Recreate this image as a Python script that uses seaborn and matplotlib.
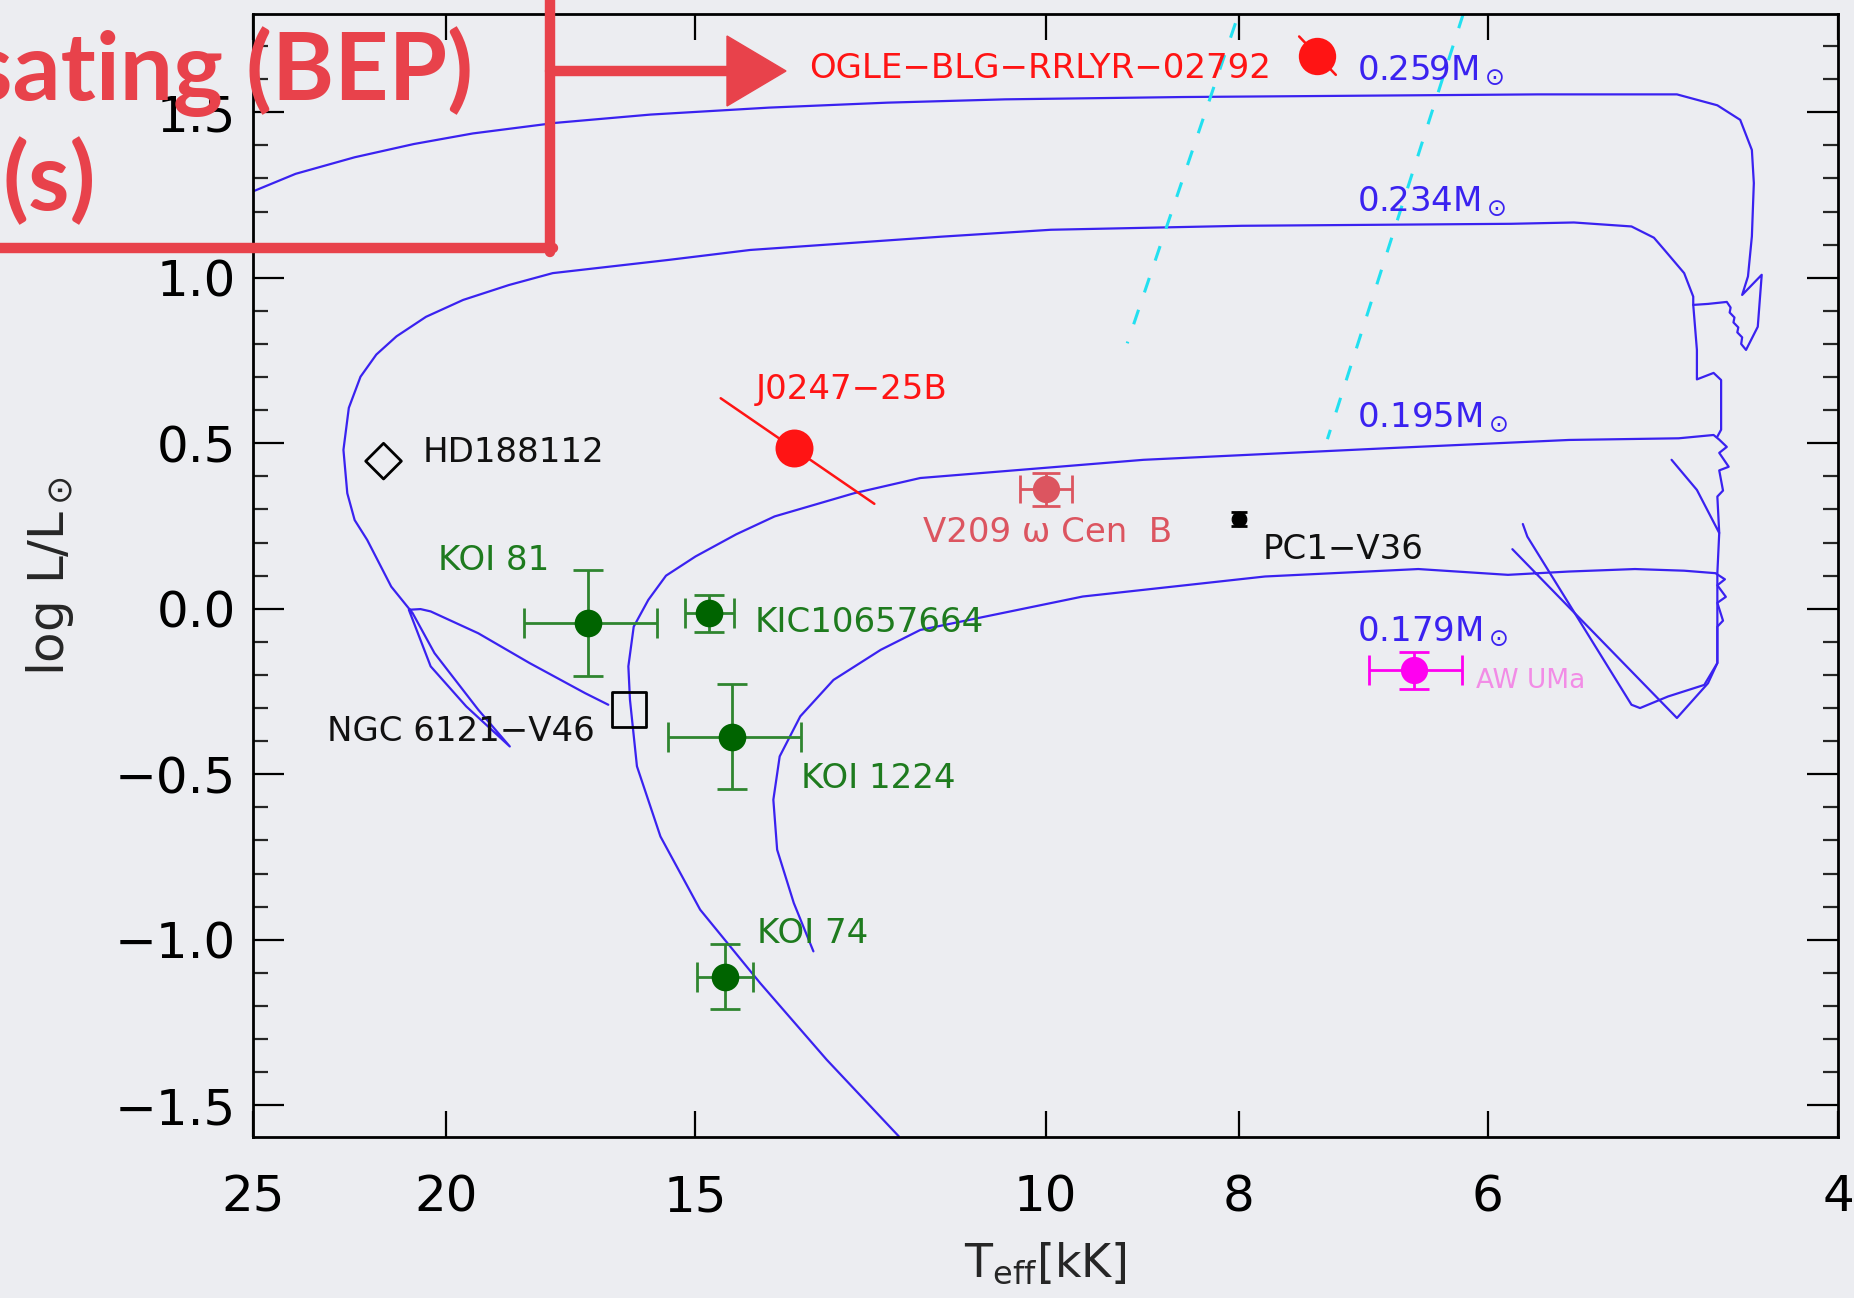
import matplotlib
matplotlib.use("Agg")
import matplotlib.pyplot as plt
from matplotlib.lines import Line2D
from matplotlib.patches import Polygon
from matplotlib.ticker import MultipleLocator, NullLocator
import seaborn as sns

# evolutionary tracks (Teff in kK, log L/Lsun)
t259 = [25.0, 23.80, 22.23, 20.76, 19.39, 17.62, 15.79, 13.77, 12.01, 10.48, 8.53, 6.95, 5.66,
        4.82, 4.60, 4.48, 4.42, 4.41, 4.42, 4.44, 4.47, 4.37, 4.39, 4.45,
        4.475, 4.47, 4.495, 4.49, 4.515, 4.51, 4.535, 4.53, 4.55, 4.65, 4.73]
l259 = [1.261, 1.314, 1.364, 1.404, 1.436, 1.468, 1.493, 1.514, 1.529, 1.539, 1.546, 1.550, 1.554,
        1.554, 1.521, 1.477, 1.386, 1.286, 1.125, 1.004, 0.948, 1.009, 0.852, 0.782,
        0.800, 0.820, 0.835, 0.850, 0.865, 0.880, 0.895, 0.910, 0.927, 0.921, 0.918]

t234 = [16.58, 17.03, 18.16, 19.27, 20.36, 20.60, 20.88, 20.36, 19.54, 18.58, 19.27, 20.27, 20.79,
        21.31, 21.91, 22.23, 22.42, 22.52, 22.38, 22.08, 21.68, 21.18, 20.47, 19.61, 18.60, 17.68,
        15.46, 14.07, 11.29, 9.94, 7.97, 5.84, 5.43, 5.08, 4.95, 4.89, 4.78, 4.73, 4.73, 4.71, 4.71,
        4.62, 4.58, 4.58, 4.60]
l234 = [-0.290, -0.255, -0.164, -0.074, -0.008, -0.001, -0.003, -0.174, -0.295, -0.416, -0.305,
        -0.134, -0.013, 0.067, 0.208, 0.268, 0.349, 0.480, 0.607, 0.701, 0.768, 0.823, 0.882, 0.933,
        0.978, 1.014, 1.054, 1.084, 1.124, 1.145, 1.157, 1.163, 1.167, 1.155, 1.121, 1.084, 1.014,
        0.943, 0.918, 0.782, 0.693, 0.7125, 0.691, 0.541, 0.520]

t195 = [11.85, 12.88, 13.91, 14.91, 15.61, 16.04, 16.17, 16.20, 16.10, 15.83, 15.51, 14.99, 14.30,
        13.68, 12.48, 11.56, 8.93, 6.74, 5.46, 4.81, 4.62, 4.59, 4.55, 4.59, 4.54, 4.59, 4.57, 4.60,
        4.59, 4.71, 4.85]
l195 = [-1.594, -1.3625, -1.131, -0.909, -0.688, -0.476, -0.275, -0.174, -0.054, 0.027, 0.100, 0.158,
        0.225, 0.279, 0.349, 0.395, 0.450, 0.485, 0.510, 0.515, 0.525, 0.511, 0.489, 0.471, 0.429,
        0.418, 0.357, 0.339, 0.229, 0.359, 0.450]

t195b = [4.59, 4.60, 4.60, 4.67, 4.87, 5.03, 5.08, 5.73, 5.76]
l195b = [0.229, 0.107, -0.164, -0.230, -0.265, -0.300, -0.290, 0.218, 0.256]

t179 = [13.08, 13.38, 13.64, 13.70, 13.60, 13.28, 12.78, 12.10, 11.56, 9.58, 7.76, 6.50, 5.86, 5.46,
        5.06, 4.78, 4.61, 4.56, 4.60, 4.555, 4.60, 4.57, 4.60, 4.60, 4.65, 4.82, 5.83]
l179 = [-1.035, -0.889, -0.728, -0.577, -0.446, -0.325, -0.215, -0.124, -0.064, 0.037, 0.0975, 0.120,
        0.1025, 0.1125, 0.120, 0.115, 0.1075, 0.089, 0.071, 0.036, 0.018, -0.036, -0.054, -0.164,
        -0.225, -0.330, 0.180]

track_labels = ["0.259M$_\\odot$", "0.234M$_\\odot$", "0.195M$_\\odot$", "0.179M$_\\odot$"]
track_label_l = [1.5975, 1.202, 0.5475, -0.099]

# instability strip borders (cyan dashed)
strip1_t = [8.03, 9.10]
strip1_l = [1.769, 0.802]
strip2_t = [6.17, 7.22]
strip2_l = [1.798, 0.5125]

# observed objects
names = ["OGLE\u2212BLG\u2212RRLYR\u221202792", "J0247\u221225B", "HD188112", "V209 \u03c9 Cen  B",
         "PC1\u2212V36", "KOI 81", "KIC10657664", "NGC 6121\u2212V46", "KOI 1224", "KOI 74", "AW UMa"]
obj_t = [7.31, 13.38, 21.5, 10.0, 8.0, 16.98, 14.75, 16.19, 14.37, 14.49, 6.53]
obj_l = [1.671, 0.485, 0.446, 0.361, 0.271, -0.043, -0.014, -0.304, -0.386, -1.111, -0.186]
label_t = [13.14, 13.98, 20.54, 11.52, 7.78, 20.19, 14.0, 22.94, 13.27, 13.96, 6.08]
label_l = [1.605, 0.633, 0.443, 0.201, 0.151, 0.118, -0.069, -0.401, -0.542, -1.010, -0.240]

# error bars: KOI 81, KIC10657664, KOI 1224, KOI 74
koi_t = [16.98, 14.75, 14.37, 14.49]
koi_l = [-0.043, -0.014, -0.386, -1.111]
koi_terr = [1.3, 0.42, 1.1, 0.47]
koi_lerr = [0.16, 0.057, 0.16, 0.097]
v209_terr, v209_lerr = 0.3, 0.05
pc1_lerr = 0.02
aw_terr, aw_lerr = 0.35, 0.055
# correlated errors drawn as segments
ogle_err_t = [7.46, 7.15]
ogle_err_l = [1.729, 1.613]
j0247_err_t = [14.56, 12.19]
j0247_err_l = [0.636, 0.317]

bg = "#ECEDF1"
blue = "#3A22F0"
red = "#FF1414"
green_dot = "#006400"
green_bar = "#2F852F"
green_txt = "#1E7B1E"
v209_col = "#DC5560"
aw_dot = "#FF00F0"
aw_txt = "#F28CE6"

sns.set_theme(style="ticks")
plt.rcParams["font.family"] = ["DejaVu Sans"]
plt.rcParams["mathtext.fontset"] = "dejavusans"
plt.rcParams["figure.facecolor"] = bg
plt.rcParams["axes.facecolor"] = bg

fig = plt.figure(figsize=(18.54, 12.98), dpi=100)
ax = fig.add_axes([0.1365, 0.124, 0.855, 0.865])
ax.set_xscale("log")

for t, l in [(t259, l259), (t234, l234), (t195, l195), (t195b, l195b), (t179, l179)]:
    sns.lineplot(x=t, y=l, sort=False, estimator=None, color=blue, lw=1.6, ax=ax)

for t, l in [(strip1_t, strip1_l), (strip2_t, strip2_l)]:
    sns.lineplot(x=t, y=l, sort=False, estimator=None, color="#22E0F0", lw=2.2,
                 dashes=False, ax=ax, linestyle=(0, (5, 6)))

for txt, yy in zip(track_labels, track_label_l):
    ax.text(6.98, yy, txt, color=blue, fontsize=24.5, va="baseline", ha="left")

# correlated error segments
sns.lineplot(x=ogle_err_t, y=ogle_err_l, sort=False, estimator=None, color=red, lw=1.8, ax=ax)
sns.lineplot(x=j0247_err_t, y=j0247_err_l, sort=False, estimator=None, color=red, lw=1.8, ax=ax)

# error bars
ax.errorbar(koi_t, koi_l, xerr=koi_terr, yerr=koi_lerr, fmt="none", ecolor=green_bar,
            elinewidth=2, capsize=11, capthick=2)
ax.errorbar([obj_t[3]], [obj_l[3]], xerr=v209_terr, yerr=v209_lerr, fmt="none", ecolor=v209_col,
            elinewidth=2, capsize=10, capthick=2)
ax.errorbar([obj_t[4]], [obj_l[4]], yerr=pc1_lerr, fmt="none", ecolor="black",
            elinewidth=2, capsize=6, capthick=2)
ax.errorbar([obj_t[10]], [obj_l[10]], xerr=aw_terr, yerr=aw_lerr, fmt="none", ecolor=aw_dot,
            elinewidth=2, capsize=11, capthick=2)

# markers
sns.scatterplot(x=[obj_t[0]], y=[obj_l[0]], s=620, color=red, edgecolor=red, ax=ax, zorder=5)
sns.scatterplot(x=[obj_t[1]], y=[obj_l[1]], s=640, color=red, edgecolor=red, ax=ax, zorder=5)
sns.scatterplot(x=[obj_t[2]], y=[obj_l[2]], s=330, marker="D", facecolor="none",
                edgecolor="black", linewidth=2, ax=ax, zorder=5)
sns.scatterplot(x=[obj_t[3]], y=[obj_l[3]], s=330, color=v209_col, edgecolor=v209_col, ax=ax, zorder=5)
sns.scatterplot(x=[obj_t[4]], y=[obj_l[4]], s=110, color="black", edgecolor="black", ax=ax, zorder=5)
sns.scatterplot(x=koi_t, y=koi_l, s=340, color=green_dot, edgecolor=green_dot, ax=ax, zorder=5)
sns.scatterplot(x=[obj_t[7]], y=[obj_l[7]], s=620, marker="s", facecolor="none",
                edgecolor="black", linewidth=2, ax=ax, zorder=5)
sns.scatterplot(x=[obj_t[10]], y=[obj_l[10]], s=330, color=aw_dot, edgecolor=aw_dot, ax=ax, zorder=5)

label_cols = [red, red, "#111111", v209_col, "#111111", green_txt, green_txt, "#111111",
              green_txt, green_txt, aw_txt]
label_size = [24.5] * 10 + [19]
for n, x, y, c, fs in zip(names, label_t, label_l, label_cols, label_size):
    ax.text(x, y, n, color=c, fontsize=fs, va="baseline", ha="left", zorder=6)

# axes
ax.set_xlim(25, 4)
ax.set_ylim(-1.596, 1.796)
ax.set_xticks([25, 20, 15, 10, 8, 6, 4])
ax.set_xticklabels(["25", "20", "15", "10", "8", "6", "4"])
ax.xaxis.set_minor_locator(NullLocator())
ax.yaxis.set_major_locator(MultipleLocator(0.5))
ax.yaxis.set_minor_locator(MultipleLocator(0.1))
ax.tick_params(axis="x", which="major", direction="in", length=19, width=1.6, top=True,
               labelsize=36, pad=26, colors="black")
ax.tick_params(axis="y", which="major", direction="in", length=22, width=1.6, right=True,
               labelsize=36, pad=12, colors="black")
ax.tick_params(axis="y", which="minor", direction="in", length=11, width=1.6, right=True)
for sp in ax.spines.values():
    sp.set_linewidth(2)
    sp.set_color("black")
    sp.set_visible(True)

ax.set_xlabel("T$_\\mathrm{eff}$[kK]", fontsize=33)
ax.set_ylabel("log L/L$_\\odot$", fontsize=36)
ax.xaxis.set_label_coords(0.5, -0.092)
ax.yaxis.set_label_coords(-0.112, 0.5)

# slide overlay in the upper left corner
over = "#E8424B"
fig.text(473 / 1854, 1 - 100 / 1298, "sating (BEP)", color=over, fontsize=68,
         fontweight="bold", family=["Lato", "DejaVu Sans"], ha="right", va="baseline")
fig.text(2 / 1854, 1 - 210 / 1298, "(s)", color=over, fontsize=68,
         fontweight="bold", family=["Lato", "DejaVu Sans"], ha="left", va="baseline")
W, H = 1854, 1298
fig.add_artist(Line2D([550 / W, 550 / W], [1.0, 1 - 252 / H], color=over, lw=7.5,
                      transform=fig.transFigure, zorder=20))
fig.add_artist(Line2D([0, 553 / W], [1 - 248 / H, 1 - 248 / H], color=over, lw=7.5,
                      transform=fig.transFigure, zorder=20))
fig.add_artist(Line2D([550 / W, 735 / W], [1 - 71 / H, 1 - 71 / H], color=over, lw=7.5,
                      transform=fig.transFigure, zorder=20))
fig.add_artist(Polygon([[727 / W, 1 - 36 / H], [786 / W, 1 - 71 / H], [727 / W, 1 - 106 / H]],
                       closed=True, color=over, transform=fig.transFigure, zorder=20))

fig.savefig("out.png", dpi=100, facecolor=bg)
